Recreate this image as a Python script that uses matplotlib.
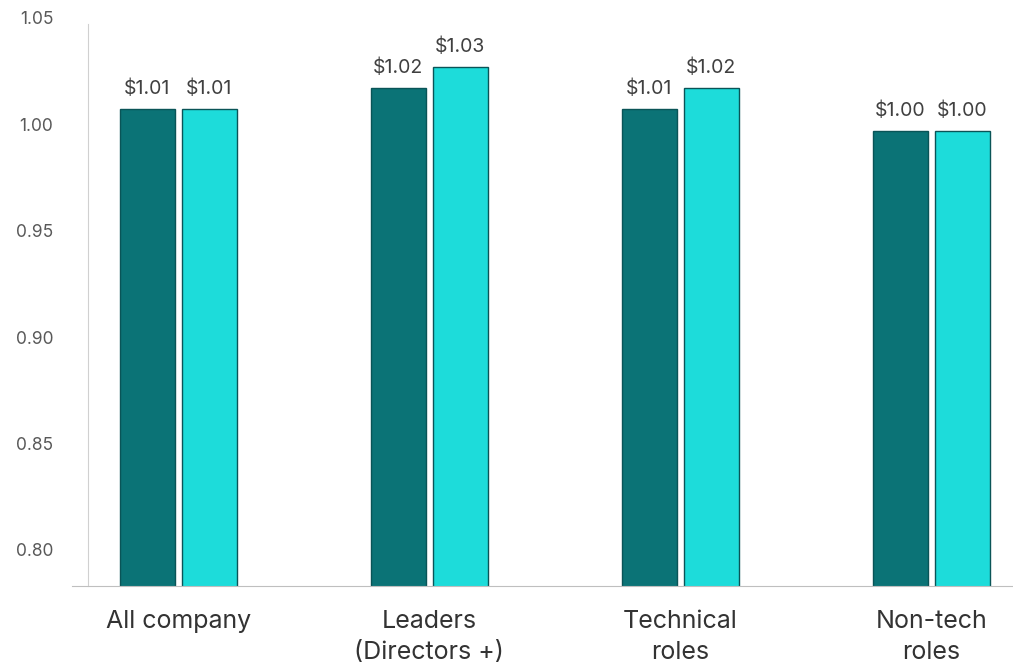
import numpy as np
import matplotlib.pyplot as plt

plt.rcParams['font.family'] = ['Inter', 'DejaVu Sans']

groups = ["All company", "Leaders\n(Directors +)", "Technical\nroles", "Non-tech\nroles"]
series_a = [1.007, 1.017, 1.007, 0.997]
series_b = [1.007, 1.027, 1.017, 0.997]
y_ticks = [0.80, 0.85, 0.90, 0.95, 1.00, 1.05]

dark = "#0b7376"
light = "#1ddcda"
edge = "#0a5457"

fig = plt.figure(figsize=(10.13, 6.65), dpi=100)
ax = fig.add_axes([72 / 1013, 1 - 586 / 665, 1 - 72 / 1013, (586 - 18) / 665])

x = np.arange(len(groups))
width = 0.219
offset = 0.1235

bars_a = ax.bar(x - offset, series_a, width, color=dark, edgecolor=edge, linewidth=1)
bars_b = ax.bar(x + offset, series_b, width, color=light, edgecolor=edge, linewidth=1)

for bars in (bars_a, bars_b):
    for b in bars:
        h = b.get_height()
        ax.annotate(f"${h:.2f}", (b.get_x() + b.get_width() / 2, h),
                    xytext=(0, 8), textcoords="offset points",
                    ha="center", va="bottom", fontsize=14, color="#404040")

ax.set_ylim(0.783, 1.05)
ax.set_xlim(-0.424, 3.325)
ax.set_yticks(y_ticks)
ax.set_yticklabels([f"{t:.2f}" for t in y_ticks])
ax.set_xticks(x)
ax.set_xticklabels(groups, fontsize=18, color="#333333", linespacing=1.45)

ax.tick_params(axis="y", length=0, pad=25, labelsize=12.5, labelcolor="#595959")
ax.tick_params(axis="x", length=0, pad=17)

for s in ("top", "right"):
    ax.spines[s].set_visible(False)
ax.spines["left"].set_position(("axes", 16 / 941))
ax.spines["left"].set_color("#d0d0d0")
ax.spines["left"].set_bounds(0.783, 1.047)
ax.spines["bottom"].set_color("#bfbfbf")

fig.savefig("out.png", dpi=100)
